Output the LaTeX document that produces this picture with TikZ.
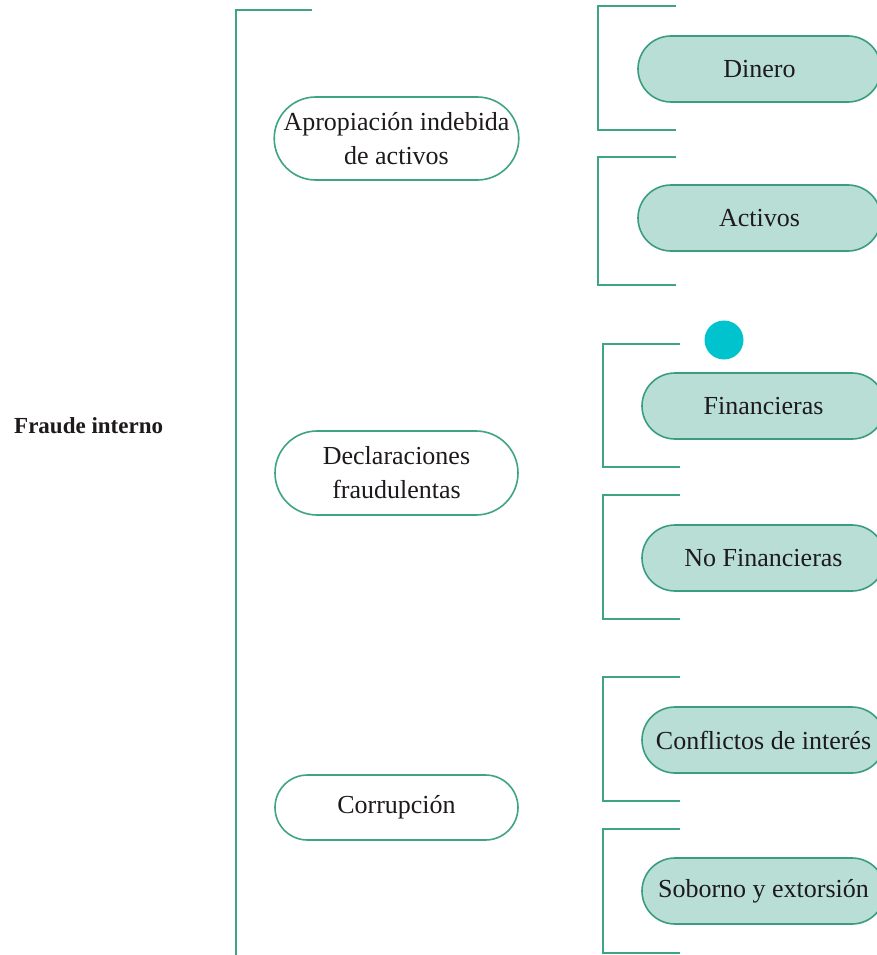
\documentclass[tikz,border=0pt]{standalone}
\usepackage{fontspec}
\usetikzlibrary{shapes.misc}
\setmainfont{Liberation Serif}
\definecolor{lineteal}{HTML}{3FA386}
\definecolor{boxteal}{HTML}{3A9C80}
\definecolor{boxfill}{HTML}{B8DED5}
\definecolor{dotcyan}{HTML}{00C3CD}
\definecolor{ink}{HTML}{1E1A1C}
\tikzset{
  bracket/.style={draw=lineteal, line width=1.8pt},
  mainbox/.style={rounded rectangle, draw=lineteal, line width=1.6pt, fill=white,
    minimum width=243pt, align=center, text=ink, inner sep=0pt,
    font=\fontsize{26}{34}\selectfont},
  subbox/.style={rounded rectangle, draw=boxteal, line width=1.6pt, fill=boxfill,
    minimum width=243pt, minimum height=66pt, align=center, text=ink, inner sep=0pt,
    font=\fontsize{26}{34}\selectfont},
}
\begin{document}
\begin{tikzpicture}[x=1pt,y=-1pt]
\useasboundingbox (0,0) rectangle (877,955);
\clip (0,0) rectangle (877,955);

% root label
\node[font=\bfseries\fontsize{23}{28}\selectfont, text=ink, anchor=west, inner sep=0pt] (root) at (14,426) {Fraude interno};

% main bracket
\draw[bracket] (312,10) -- (236,10) -- (236,960);

% first-level categories
\node[mainbox, minimum height=83pt] (apro) at (396.5,138.5) {Apropiación indebida\\de activos};
\node[mainbox, minimum height=84pt] (decl) at (396.5,473) {Declaraciones\\fraudulentas};
\node[mainbox, minimum height=65pt] (corr) at (396.5,807.5) {Corrupción};

% second-level brackets
\draw[bracket] (676,6) -- (598,6) -- (598,130) -- (676,130);
\draw[bracket] (676,157) -- (598,157) -- (598,285) -- (676,285);
\draw[bracket] (680,344) -- (603,344) -- (603,467) -- (680,467);
\draw[bracket] (680,495) -- (603,495) -- (603,619) -- (680,619);
\draw[bracket] (680,677) -- (603,677) -- (603,801) -- (680,801);
\draw[bracket] (680,829) -- (603,829) -- (603,953) -- (680,953);

% second-level items
\node[subbox] (dinero) at (759.5,69) {Dinero};
\node[subbox] (activos) at (759.5,218) {Activos};
\node[subbox] (fin) at (763.5,406) {Financieras};
\node[subbox] (nofin) at (763.5,558) {No Financieras};
\node[subbox] (conf) at (763.5,740) {Conflictos de interés};
\node[subbox] (sob) at (763.5,891) {Soborno y extorsión};

% marker dot
\fill[dotcyan] (724,340) circle (19.5);
\end{tikzpicture}
\end{document}
